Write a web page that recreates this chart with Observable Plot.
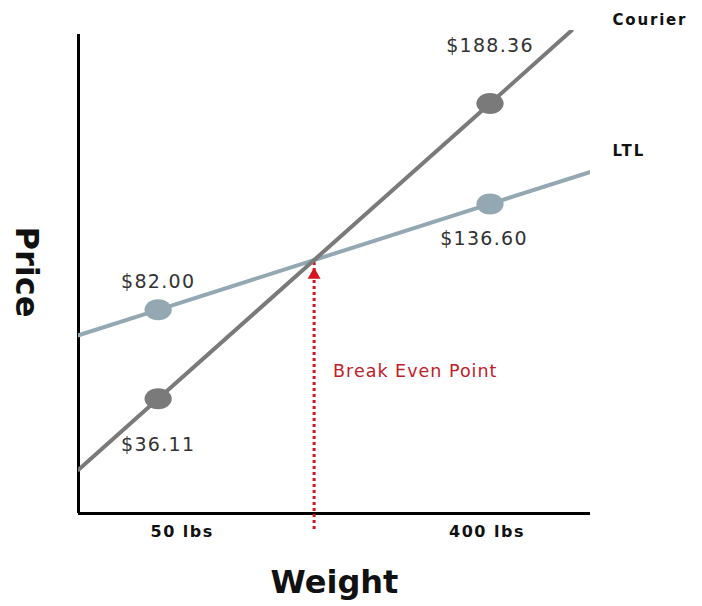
<!DOCTYPE html>
<html>
<head>
<meta charset="utf-8">
<script src="https://cdn.jsdelivr.net/npm/d3@7"></script>
<script src="https://cdn.jsdelivr.net/npm/@observablehq/plot@0.6"></script>
<style>
  html, body { margin: 0; padding: 0; background: #fff; }
  svg { display: block; }
</style>
</head>
<body>
<div id="chart"></div>
<script>
// ---- data ----
const weights = [50, 400];                 // lbs
const tickLabels = ["50 lbs", "400 lbs"];
const courierPrices = [36.11, 188.36];
const ltlPrices = [82.00, 136.60];
const priceLabels = {Courier: ["$36.11", "$188.36"], LTL: ["$82.00", "$136.60"]};
// line extents as drawn (weight, price) beyond the labelled points
const courierLineW = [-34, 50, 400, 486];
const courierLineP = [-0.4, 36.11, 188.36, 226];
const ltlLineW = [-34, 50, 400, 506];
const ltlLineP = [68.9, 82.00, 136.60, 153.1];
const breakEvenWeight = 214.5;
const breakEvenPrice = 107.66;
const xDomain = [-34, 506];
const yDomain = [-23, 226];

const courierColor = "#7a7a7a";
const ltlColor = "#93a8b2";
const red = "#d7141f";

const courierPts = weights.map((w, i) => ({w, p: courierPrices[i], label: priceLabels.Courier[i]}));
const ltlPts = weights.map((w, i) => ({w, p: ltlPrices[i], label: priceLabels.LTL[i]}));
const courierLine = courierLineW.map((w, i) => ({w, p: courierLineP[i]}));
const ltlLine = ltlLineW.map((w, i) => ({w, p: ltlLineP[i]}));
const ticks = weights.map((w, i) => ({w, label: tickLabels[i]}));
const be = [{w: breakEvenWeight, p: breakEvenPrice}];

// elliptical dot symbol
const ellipse = {
  draw(ctx, size) {
    const r = Math.sqrt(size / Math.PI);
    const rx = r * 1.3, ry = r;
    const k = 0.5523;
    ctx.moveTo(rx, 0);
    ctx.bezierCurveTo(rx, ry * k, rx * k, ry, 0, ry);
    ctx.bezierCurveTo(-rx * k, ry, -rx, ry * k, -rx, 0);
    ctx.bezierCurveTo(-rx, -ry * k, -rx * k, -ry, 0, -ry);
    ctx.bezierCurveTo(rx * k, -ry, rx, -ry * k, rx, 0);
    ctx.closePath();
  }
};

const valFont = {fontFamily: "DejaVu Sans", fontSize: 19, fill: "#333"};
const boldFont = {fontFamily: "DejaVu Sans", fontWeight: "bold", fill: "#111"};

const chart = Plot.plot({
  width: 702,
  height: 606,
  marginLeft: 78,
  marginRight: 112,
  marginTop: 30,
  marginBottom: 93,
  x: {domain: xDomain, axis: null},
  y: {domain: yDomain, axis: null},
  marks: [
    // axes
    Plot.ruleX([xDomain[0]], {y1: yDomain[0], y2: 224, stroke: "#000", strokeWidth: 3}),
    Plot.ruleY([yDomain[0]], {stroke: "#000", strokeWidth: 3}),
    // break-even dotted arrow
    Plot.ruleX(be, {x: "w", y1: yDomain[0], y2: "p", stroke: red, strokeWidth: 3, strokeDasharray: "3,3", insetTop: 16}),
    Plot.dot(be, {x: "w", y: "p", symbol: "triangle", r: 4.8, fill: red, stroke: null, dy: 15}),
    // lines
    Plot.line(ltlLine, {x: "w", y: "p", stroke: ltlColor, strokeWidth: 4, clip: true}),
    Plot.line(courierLine, {x: "w", y: "p", stroke: courierColor, strokeWidth: 4, clip: true}),
    Plot.dot(ltlPts, {x: "w", y: "p", symbol: ellipse, r: 10.5, fill: ltlColor}),
    Plot.dot(courierPts, {x: "w", y: "p", symbol: ellipse, r: 10.5, fill: courierColor}),
    // value labels
    Plot.text(courierPts.slice(0, 1), {x: "w", y: "p", text: "label", dy: 46, ...valFont}),
    Plot.text(courierPts.slice(1), {x: "w", y: "p", text: "label", dy: -58, ...valFont}),
    Plot.text(ltlPts.slice(0, 1), {x: "w", y: "p", text: "label", dy: -28, ...valFont}),
    Plot.text(ltlPts.slice(1), {x: "w", y: "p", text: "label", dx: -6, dy: 35, ...valFont}),
    // series names
    Plot.text(courierLine.slice(-1), {x: "w", y: "p", text: ["Courier"], textAnchor: "start", dx: 41, dy: -10, fontSize: 15, ...boldFont}),
    Plot.text(ltlLine.slice(-1), {x: "w", y: "p", text: ["LTL"], textAnchor: "start", dx: 22, dy: -21, fontSize: 15, ...boldFont}),
    // break-even label
    Plot.text(be, {x: "w", y: "p", text: ["Break Even Point"], textAnchor: "start", dx: 19, dy: 111, fontFamily: "DejaVu Sans", fontSize: 17.5, fill: "#c0202a"}),
    // tick labels
    Plot.text(ticks.slice(0, 1), {x: "w", y: yDomain[0], text: "label", dx: 24, dy: 18, fontSize: 16, ...boldFont}),
    Plot.text(ticks.slice(1), {x: "w", y: yDomain[0], text: "label", dx: -3, dy: 18, fontSize: 16, ...boldFont}),
    // axis titles
    Plot.text(["Weight"], {frameAnchor: "bottom", dy: 79, fontSize: 32, ...boldFont}),
    Plot.text(["Price"], {frameAnchor: "left", textAnchor: "middle", dx: -52, rotate: 90, fontSize: 32, ...boldFont})
  ]
});

// letter spacing to mimic the wide original typeface
const spacing = new Map([
  ...Object.values(priceLabels).flat().map(t => [t, "1.3px"]),
  ["Courier", "1.8px"], ["LTL", "2px"],
  ["Break Even Point", "1px"],
  ...tickLabels.map(t => [t, "1.5px"])
]);
d3.select(chart).selectAll("text").each(function() {
  const s = spacing.get(this.textContent);
  if (s) this.setAttribute("letter-spacing", s);
});

document.getElementById("chart").appendChild(chart);
</script>
</body>
</html>
